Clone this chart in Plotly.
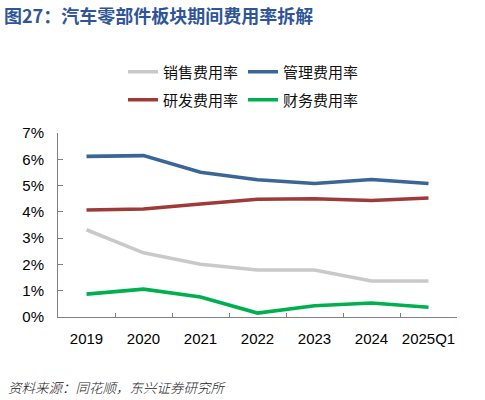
import plotly.graph_objects as go

categories = ["2019", "2020", "2021", "2022", "2023", "2024", "2025Q1"]
sales_rate = [0.0332, 0.0244, 0.0201, 0.0179, 0.0179, 0.0137, 0.0137]
admin_rate = [0.0611, 0.0614, 0.0551, 0.0522, 0.0508, 0.0523, 0.0508]
rd_rate = [0.0407, 0.0411, 0.0430, 0.0448, 0.0450, 0.0443, 0.0453]
fin_rate = [0.0087, 0.0106, 0.0076, 0.0015, 0.0043, 0.0053, 0.0037]

series = [
    ("销售费用率", sales_rate, "#C9C9C9", "legend"),
    ("管理费用率", admin_rate, "#3A6597", "legend"),
    ("研发费用率", rd_rate, "#9E3A37", "legend2"),
    ("财务费用率", fin_rate, "#00B050", "legend2"),
]

fig = go.Figure()
for name, vals, color, lg in series:
    fig.add_trace(go.Scatter(
        x=categories, y=vals, name=name, mode="lines",
        line=dict(color=color, width=3.6), legend=lg,
    ))

font_main = "Liberation Sans, Arial, Noto Sans CJK SC, sans-serif"
legend_style = dict(
    orientation="h", xref="container", yref="container",
    xanchor="left", yanchor="middle",
    font=dict(size=15, color="#111111", family="Noto Sans CJK SC, sans-serif"),
    bgcolor="rgba(0,0,0,0)", entrywidth=75, entrywidthmode="pixels",
    itemclick=False, itemdoubleclick=False, tracegroupgap=0,
)

fig.update_layout(
    width=485, height=400,
    margin=dict(l=58, r=28, t=133, b=83, autoexpand=False),
    paper_bgcolor="white", plot_bgcolor="white",
    font=dict(family=font_main, size=15, color="#000000"),
    showlegend=True,
    legend=dict(**legend_style, x=123 / 485, y=1 - 72 / 400),
    legend2=dict(**legend_style, x=123 / 485, y=1 - 100 / 400),
    xaxis=dict(
        type="category", range=[-0.5, 6.5], automargin=False, tickangle=0,
        showline=True, linecolor="#808080", linewidth=1,
        ticks="inside", tickson="boundaries", ticklen=4, tickcolor="#808080",
        showgrid=False, zeroline=False,
        tickfont=dict(size=15, color="#000000", family=font_main),
        ticklabelstandoff=8,
    ),
    yaxis=dict(
        range=[0, 0.07], dtick=0.01, tickformat=".0%", automargin=False,
        showline=True, linecolor="#808080", linewidth=1,
        ticks="inside", ticklen=5, tickcolor="#808080",
        showgrid=False, zeroline=False,
        tickfont=dict(size=15, color="#000000", family=font_main),
        ticklabelstandoff=10,
    ),
    annotations=[
        dict(text="<b>图27：汽车零部件板块期间费用率拆解</b>", xref="paper", yref="paper",
             x=-56 / 399, y=1 + (133 - 15) / 184, xanchor="left", yanchor="middle",
             showarrow=False,
             font=dict(size=18, color="#2F5597", family="Noto Sans CJK SC, sans-serif")),
        dict(text="资料来源：同花顺，东兴证券研究所", xref="paper", yref="paper",
             x=-52 / 399, y=-(387 - 317) / 184, xanchor="left", yanchor="middle",
             showarrow=False,
             font=dict(size=13.5, color="#222222", style="italic", weight=300,
                       family="Noto Sans CJK SC, sans-serif")),
    ],
)

fig.write_html("out.html", config={"displayModeBar": False},
               post_script="document.body.style.margin='0';")
